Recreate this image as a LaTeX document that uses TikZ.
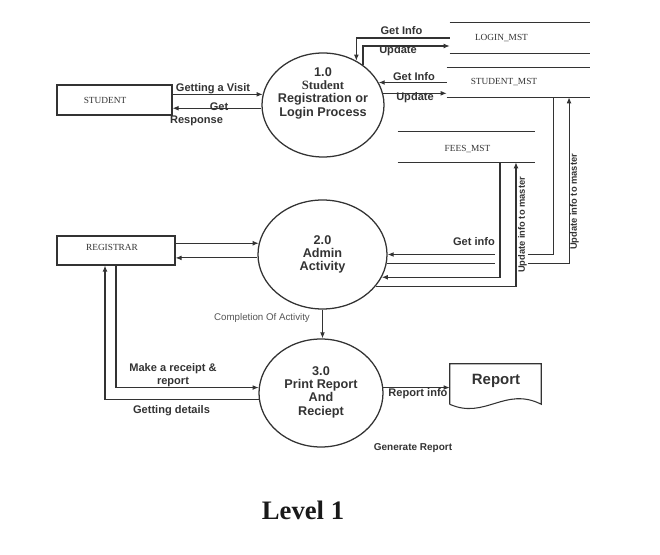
\documentclass[tikz,border=0pt]{standalone}
\usepackage{fontspec}
\setmainfont{Liberation Serif}
\setsansfont{Liberation Sans}
\usetikzlibrary{arrows.meta}
\usetikzlibrary{shapes.geometric}

\definecolor{ink}{HTML}{333333}
\definecolor{softink}{HTML}{555555}

\begin{document}
\begin{tikzpicture}[x=0.75pt, y=-0.75pt,
    line/.style={draw=ink, line width=0.8pt},
    flow/.style={line, -{Latex[length=4.5pt, width=3.6pt]}},
    proc/.style={ellipse, draw=ink, line width=0.95pt, inner sep=0pt},
    proctxt/.style={align=center, text=ink, font=\fontsize{9.5}{10}\sffamily\bfseries},
    entity/.style={rectangle, draw=ink, line width=0.8pt, minimum height=22.5pt},
    store/.style={rectangle, inner sep=0pt, minimum height=22.5pt,
        append after command={(\tikzlastnode.north west) edge[line] (\tikzlastnode.north east)
            (\tikzlastnode.south west) edge[line] (\tikzlastnode.south east)}},
    dbtxt/.style={text=ink, font=\fontsize{7}{8}\rmfamily},
    tag/.style={text=ink, font=\fontsize{8.3}{9.75}\sffamily\bfseries, inner sep=1pt},
    vtag/.style={tag, font=\fontsize{7}{8}\sffamily\bfseries, rotate=90}]
    \useasboundingbox (0,0) rectangle (660,555);

    % processes
    \node[proc, minimum width=91.5pt, minimum height=78pt] (p1) at (323,105) {};
    \node[proctxt] (p1txt) at (323,93) {1.0\\{\rmfamily\bfseries Student}\\Registration or\\Login Process};
    \node[proc, minimum width=96.75pt, minimum height=81.75pt] (p2) at (322.5,254.5) {};
    \node[proctxt] (p2txt) at (322.5,254.5) {2.0\\Admin\\Activity};
    \node[proc, minimum width=93pt, minimum height=81pt] (p3) at (321,393) {};
    \node[proctxt] (p3txt) at (321,392) {3.0\\Print Report\\And\\Reciept};

    % entities and stores
    \node[entity, minimum width=86.25pt, label={[dbtxt, name=studenttxt, xshift=-7.1pt]center:STUDENT}] (student) at (114.5,100) {};
    \node[entity, minimum width=88.5pt, minimum height=21.75pt, label={[dbtxt, name=registrartxt, xshift=-3pt, yshift=2.4pt]center:REGISTRAR}] (registrar) at (116,250.5) {};
    \node[store, minimum width=105pt, label={[dbtxt, name=logintxt, xshift=-13.9pt]center:LOGIN\_MST}] (login) at (520,38) {};
    \node[store, minimum width=107.25pt, minimum height=21.75pt, label={[dbtxt, name=stumsttxt, xshift=-10.9pt]center:STUDENT\_MST}] (stumst) at (518.5,82.5) {};
    \node[store, minimum width=102.75pt, label={[dbtxt, name=feestxt, xshift=0.75pt, yshift=-1.5pt]center:FEES\_MST}] (fees) at (466.5,147) {};

    \node[inner sep=0pt, minimum width=68.25pt, minimum height=30pt] (report) at (495.5,384) {};
    \draw[line] (report.south west) -- (report.north west) -- (report.north east) -- (report.south east)
        .. controls (505,386) and (485,420) .. (report.south west);
    \node[text=ink, font=\fontsize{11.2}{12}\sffamily\bfseries] (reporttxt) at (496,381) {Report};

    % flows
    \draw[flow] (p1.170 -| student.east) -- (p1.170);
    \draw[flow] (p1.183) -- (p1.183 -| student.east);
    \draw[flow] (login.west) -| (p1.53);
    \draw[flow] (p1.45) |- ([yshift=-6pt]login.west);
    \draw[flow] (p1.22 -| stumst.west) -- (p1.22);
    \draw[flow] (p1.11) -- (p1.11 -| stumst.west);

    \draw[flow] (p2.170 -| registrar.east) -- (p2.170);
    \draw[flow] (p2.183) -- (p2.183 -| registrar.east);
    \draw[flow] (p2.south) -- (p2.south |- p3.north);
    \draw[flow] (registrar.south) |- (p3.175);
    \draw[flow] (p3.186) -| ([xshift=-8.25pt]registrar.south);
    \draw[flow] (p3.5) -- (p3.5 -| report.west);

    \coordinate (gapl) at (495,0);
    \coordinate (gapr) at (528,0);
    \coordinate (smget) at ([xshift=25.9pt]stumst.south);
    \coordinate (smupd) at ([xshift=37.9pt]stumst.south);
    \coordinate (fget) at ([xshift=25.1pt]fees.south);
    \coordinate (fupd) at ([xshift=37.1pt]fees.south);
    \draw[line] (smget) |- (gapr |- p2.east);
    \draw[flow] (gapl |- p2.east) -- (p2.east);
    \draw[line] (p2.352) -- (gapl |- p2.352);
    \draw[flow] (gapr |- p2.352) -| (smupd);
    \draw[flow] (fget) |- (p2.339);
    \draw[flow] (p2.329) -| (fupd);

    % labels
    \node[tag] (getlogin) at (401.5,31) {Get Info};
    \node[tag] (updlogin) at (398,51) {Update};
    \node[tag] (getstu) at (414,77) {Get Info};
    \node[tag] (updstu) at (415,98) {Update};
    \node[tag] (visit) at (213,89) {Getting a Visit};
    \node[tag] (resp1) at (219,107) {Get};
    \node[tag] (resp2) at (196.5,121) {Response};
    \node[tag] (getfees) at (474,242) {Get info};
    \node[vtag] (updfees) at (522.5,225) {Update info to master};
    \node[vtag] (updstu2) at (574.5,202) {Update info to master};
    \node[text=softink, font=\fontsize{7.3}{8}\sffamily] (done) at (262,318) {Completion Of Activity};
    \node[tag, align=center] (receipt) at (173,375.5) {Make a receipt \&\\report};
    \node[tag] (details) at (171.5,411) {Getting details};
    \node[tag] (repinfo) at (418,394) {Report info};
    \node[tag, font=\fontsize{7.5}{8}\sffamily\bfseries] (generate) at (413,448) {Generate Report};

    \node[text=black!90, font=\fontsize{20}{22}\rmfamily\bfseries] (title) at (303,510) {Level 1};
\end{tikzpicture}
\end{document}
